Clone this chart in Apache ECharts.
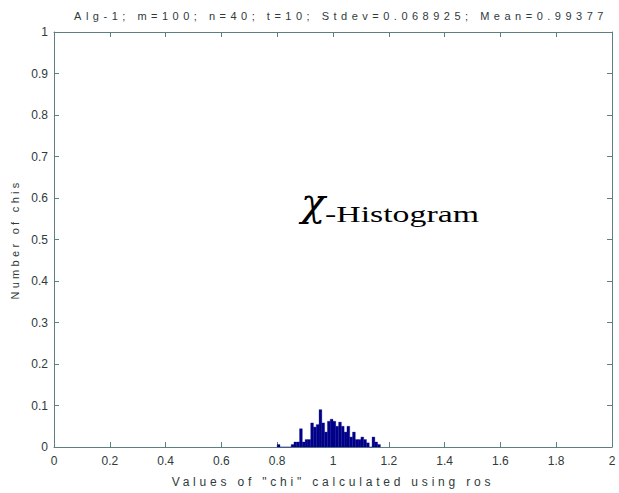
<!DOCTYPE html>
<html>
<head>
<meta charset="utf-8">
<script src="https://cdn.jsdelivr.net/npm/echarts@6/dist/echarts.min.js"></script>
<style>
html,body{margin:0;padding:0;background:#fff;}
#chart{width:619px;height:493px;}
</style>
</head>
<body>
<div id="chart"></div>
<script>
// Bin start values (bin width 0.01)
const binStarts = [0.80,0.81,0.82,0.83,0.84,0.85,0.86,0.87,0.88,0.89,0.90,0.91,0.92,0.93,0.94,0.95,0.96,0.97,0.98,0.99,1.00,1.01,1.02,1.03,1.04,1.05,1.06,1.07,1.08,1.09,1.10,1.11,1.12,1.13,1.14,1.15,1.16];
const binValues = [0.006,0,0,0,0,0.006,0.012,0.012,0.044,0.012,0.018,0.018,0.058,0.048,0.054,0.090,0.058,0.036,0.062,0.067,0.062,0.050,0.060,0.050,0.036,0.050,0.024,0.036,0.018,0.018,0.024,0.018,0.010,0,0.024,0.012,0.006];
const binWidth = 0.01;
const xTicks = [0,0.2,0.4,0.6,0.8,1,1.2,1.4,1.6,1.8,2];
const yTicks = [0,0.1,0.2,0.3,0.4,0.5,0.6,0.7,0.8,0.9,1];
const titleText = 'Alg-1; m=100; n=40; t=10; Stdev=0.068925; Mean=0.99377';
const xName = 'Values of "chi" calculated using ros';
const yName = 'Number of chis';

const data = binStarts.map((s, i) => [s, s + binWidth, binValues[i]]);
const axisColor = '#5e7f80';
const textColor = '#2f3a3a';

const chart = echarts.init(document.getElementById('chart'), null, {renderer: 'svg'});
function axisBase() {
  return {
    axisLine: {show: true, onZero: false, lineStyle: {color: axisColor, width: 1}},
    axisTick: {show: true, inside: true, length: 5, lineStyle: {color: axisColor}},
    splitLine: {show: false}
  };
}
const labelFmt = v => String(+v.toFixed(1));
chart.setOption({
  animation: false,
  title: {
    text: titleText, left: 336, top: 5, textAlign: 'center',
    textStyle: {fontFamily: 'Liberation Sans, Arial', fontSize: 11, fontWeight: 'normal', color: textColor}
  },
  grid: {left: 54, right: 7, top: 32, bottom: 45},
  xAxis: [
    Object.assign(axisBase(), {
      type: 'value', min: 0, max: 2, interval: 0.2,
      name: xName, nameLocation: 'middle', nameGap: 29,
      nameTextStyle: {fontFamily: 'Liberation Sans, Arial', fontSize: 12, color: textColor},
      axisLabel: {fontFamily: 'Liberation Sans, Arial', fontSize: 12, color: textColor, margin: 8, formatter: labelFmt}
    }),
    Object.assign(axisBase(), {
      type: 'value', min: 0, max: 2, interval: 0.2, position: 'top', axisLabel: {show: false}
    })
  ],
  yAxis: [
    Object.assign(axisBase(), {
      type: 'value', min: 0, max: 1, interval: 0.1,
      name: yName, nameLocation: 'middle', nameGap: 33,
      nameTextStyle: {fontFamily: 'Liberation Sans, Arial', fontSize: 11, color: textColor},
      axisLabel: {fontFamily: 'Liberation Sans, Arial', fontSize: 12, color: textColor, margin: 6, formatter: labelFmt}
    }),
    Object.assign(axisBase(), {
      type: 'value', min: 0, max: 1, interval: 0.1, position: 'right', axisLabel: {show: false}
    })
  ],
  series: [{
    type: 'custom',
    xAxisIndex: 0, yAxisIndex: 0,
    encode: {x: [0, 1], y: 2},
    data: data,
    renderItem: function (params, api) {
      const p0 = api.coord([api.value(0), api.value(2)]);
      const p1 = api.coord([api.value(1), 0]);
      return {
        type: 'rect',
        shape: {x: p0[0], y: p0[1], width: p1[0] - p0[0], height: p1[1] - p0[1]},
        style: {fill: '#000088', stroke: '#000088', lineWidth: 0.3}
      };
    }
  }],
  graphic: [{
    type: 'text', x: 301, y: 182,
    style: {
      text: 'χ', fontFamily: 'DejaVu Serif', fontStyle: 'italic', fontSize: 40,
      fill: '#000', verticalAlign: 'top', align: 'left'
    }
  }, {
    type: 'text', x: 325, y: 203, scaleX: 1.47,
    style: {
      text: '-Histogram', fontFamily: 'Liberation Serif, Times New Roman', fontSize: 23,
      fill: '#000', verticalAlign: 'top', align: 'left'
    }
  }]
});

function spaceTexts() {
  const texts = document.querySelectorAll('#chart svg text');
  texts.forEach(t => {
    const s = t.textContent;
    if (s === titleText) t.setAttribute('letter-spacing', '4.5');
    else if (s === xName) t.setAttribute('letter-spacing', '3.8');
    else if (s === yName) t.setAttribute('letter-spacing', '3.3');
  });
}
spaceTexts();
chart.on('finished', spaceTexts);
</script>
</body>
</html>
